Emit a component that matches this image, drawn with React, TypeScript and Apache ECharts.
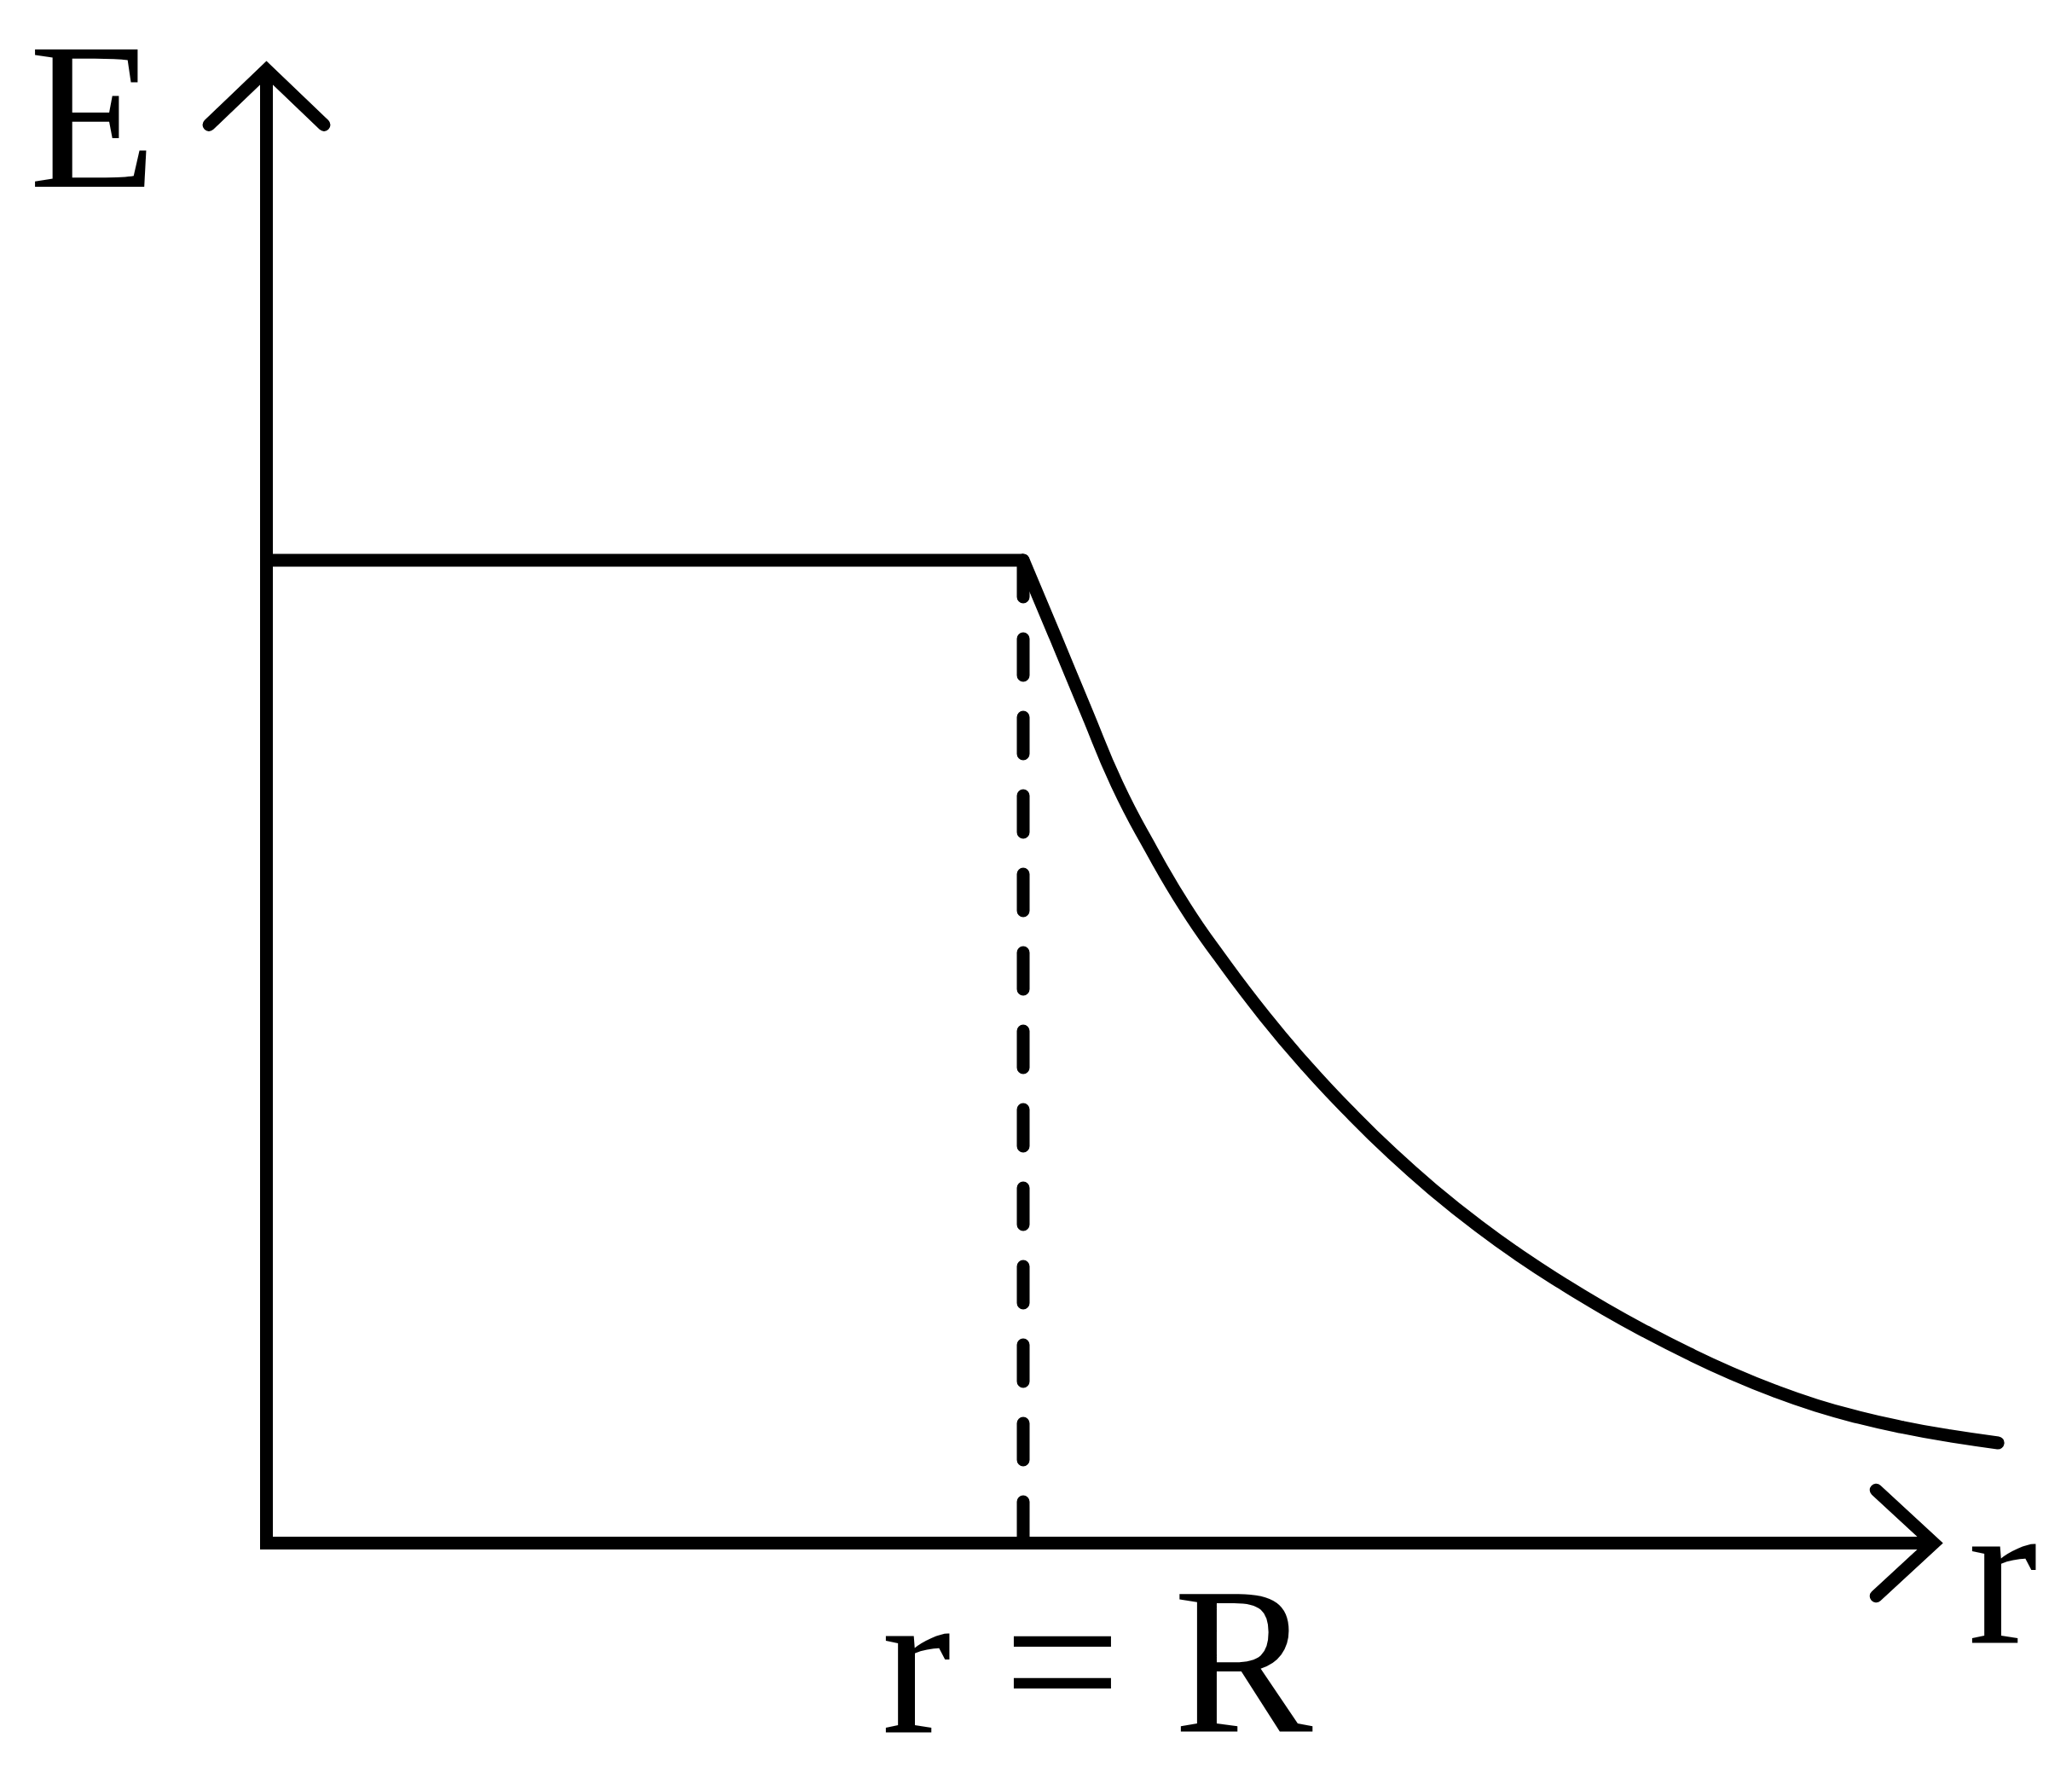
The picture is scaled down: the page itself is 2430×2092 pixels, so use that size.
import React, { useEffect, useRef } from "react";
import * as echarts from "echarts";

// Data (r in units of R, E in units of E at the surface)
const plateauR = [0, 1];
const plateauE = [1, 1];
const curveR = [1, 1.042, 1.083, 1.124, 1.169, 1.214, 1.259, 1.319, 1.375, 1.431, 1.488, 1.544, 1.601, 1.657, 1.713, 1.769, 1.823, 1.879, 1.935, 1.992, 2.048, 2.104, 2.161, 2.217, 2.288];
const curveE = [1, 0.923, 0.847, 0.772, 0.706, 0.647, 0.597, 0.536, 0.485, 0.439, 0.396, 0.358, 0.323, 0.292, 0.264, 0.238, 0.215, 0.193, 0.173, 0.155, 0.14, 0.128, 0.118, 0.11, 0.102];
const surfaceR = 1;
const yAxisTop = 1.499;
const xAxisEnd = 2.203;
const axisNameY = "E";
const axisNameX = "r";
const markLabel = "r = R";

const FONT = "Liberation Serif";

export default function App() {
  const ref = useRef<HTMLDivElement>(null);
  useEffect(() => {
    if (!ref.current) return;
    const chart = echarts.init(ref.current, null, { renderer: "svg" });
    const pair = (xs: number[], ys: number[]) => xs.map((x, i) => [x, ys[i]]);
    const lineBase = {
      type: "line",
      showSymbol: false,
      symbol: "none",
      clip: false,
      silent: true,
    };
    const W = 15;
    const textStyle = (text: string) => ({
      text,
      fontFamily: FONT,
      fontSize: 245,
      lineHeight: 200,
      fill: "#000",
    });
    chart.setOption({
      animation: false,
      backgroundColor: "#ffffff",
      grid: { left: 46.25, top: 23.1, width: 2351.9, height: 2016.9, containLabel: false },
      xAxis: { type: "value", min: -0.3, max: 2.35, show: false },
      yAxis: { type: "value", min: -0.2, max: 1.55, show: false },
      series: [
        {
          ...lineBase,
          name: "yAxis",
          data: [[0, -0.0065], [0, yAxisTop]],
          lineStyle: { color: "#000", width: W, cap: "butt" },
        },
        {
          ...lineBase,
          name: "yArrow",
          data: [[-0.076, 1.443], [0, yAxisTop], [0.076, 1.443]],
          lineStyle: { color: "#000", width: W, cap: "round", join: "miter" },
        },
        {
          ...lineBase,
          name: "xAxis",
          data: [[-0.008, 0], [xAxisEnd, 0]],
          lineStyle: { color: "#000", width: W, cap: "butt" },
        },
        {
          ...lineBase,
          name: "xArrow",
          data: [[2.127, 0.054], [xAxisEnd, 0], [2.127, -0.054]],
          lineStyle: { color: "#000", width: W, cap: "round", join: "miter" },
        },
        {
          ...lineBase,
          name: "plateau",
          data: pair(plateauR, plateauE),
          lineStyle: { color: "#000", width: W, cap: "butt" },
        },
        {
          ...lineBase,
          name: "dashed",
          data: [[surfaceR, 1], [surfaceR, 0]],
          lineStyle: { color: "#000", width: W, type: [43, 49], cap: "round" },
        },
        {
          ...lineBase,
          name: "decay",
          smooth: 0.5,
          data: pair(curveR, curveE),
          lineStyle: { color: "#000", width: W, cap: "round", join: "round" },
        },
      ],
      graphic: [
        { type: "text", left: 34, top: 14, style: textStyle(axisNameY) },
        { type: "text", left: 2308, top: 1721, style: textStyle(axisNameX) },
        { type: "text", left: 1034, top: 1826, style: textStyle(markLabel) },
      ],
    });
    return () => chart.dispose();
  }, []);
  return (
    <div
      ref={ref}
      style={{ position: "absolute", left: 0, top: 0, width: 2430, height: 2092, background: "#fff" }}
    />
  );
}
